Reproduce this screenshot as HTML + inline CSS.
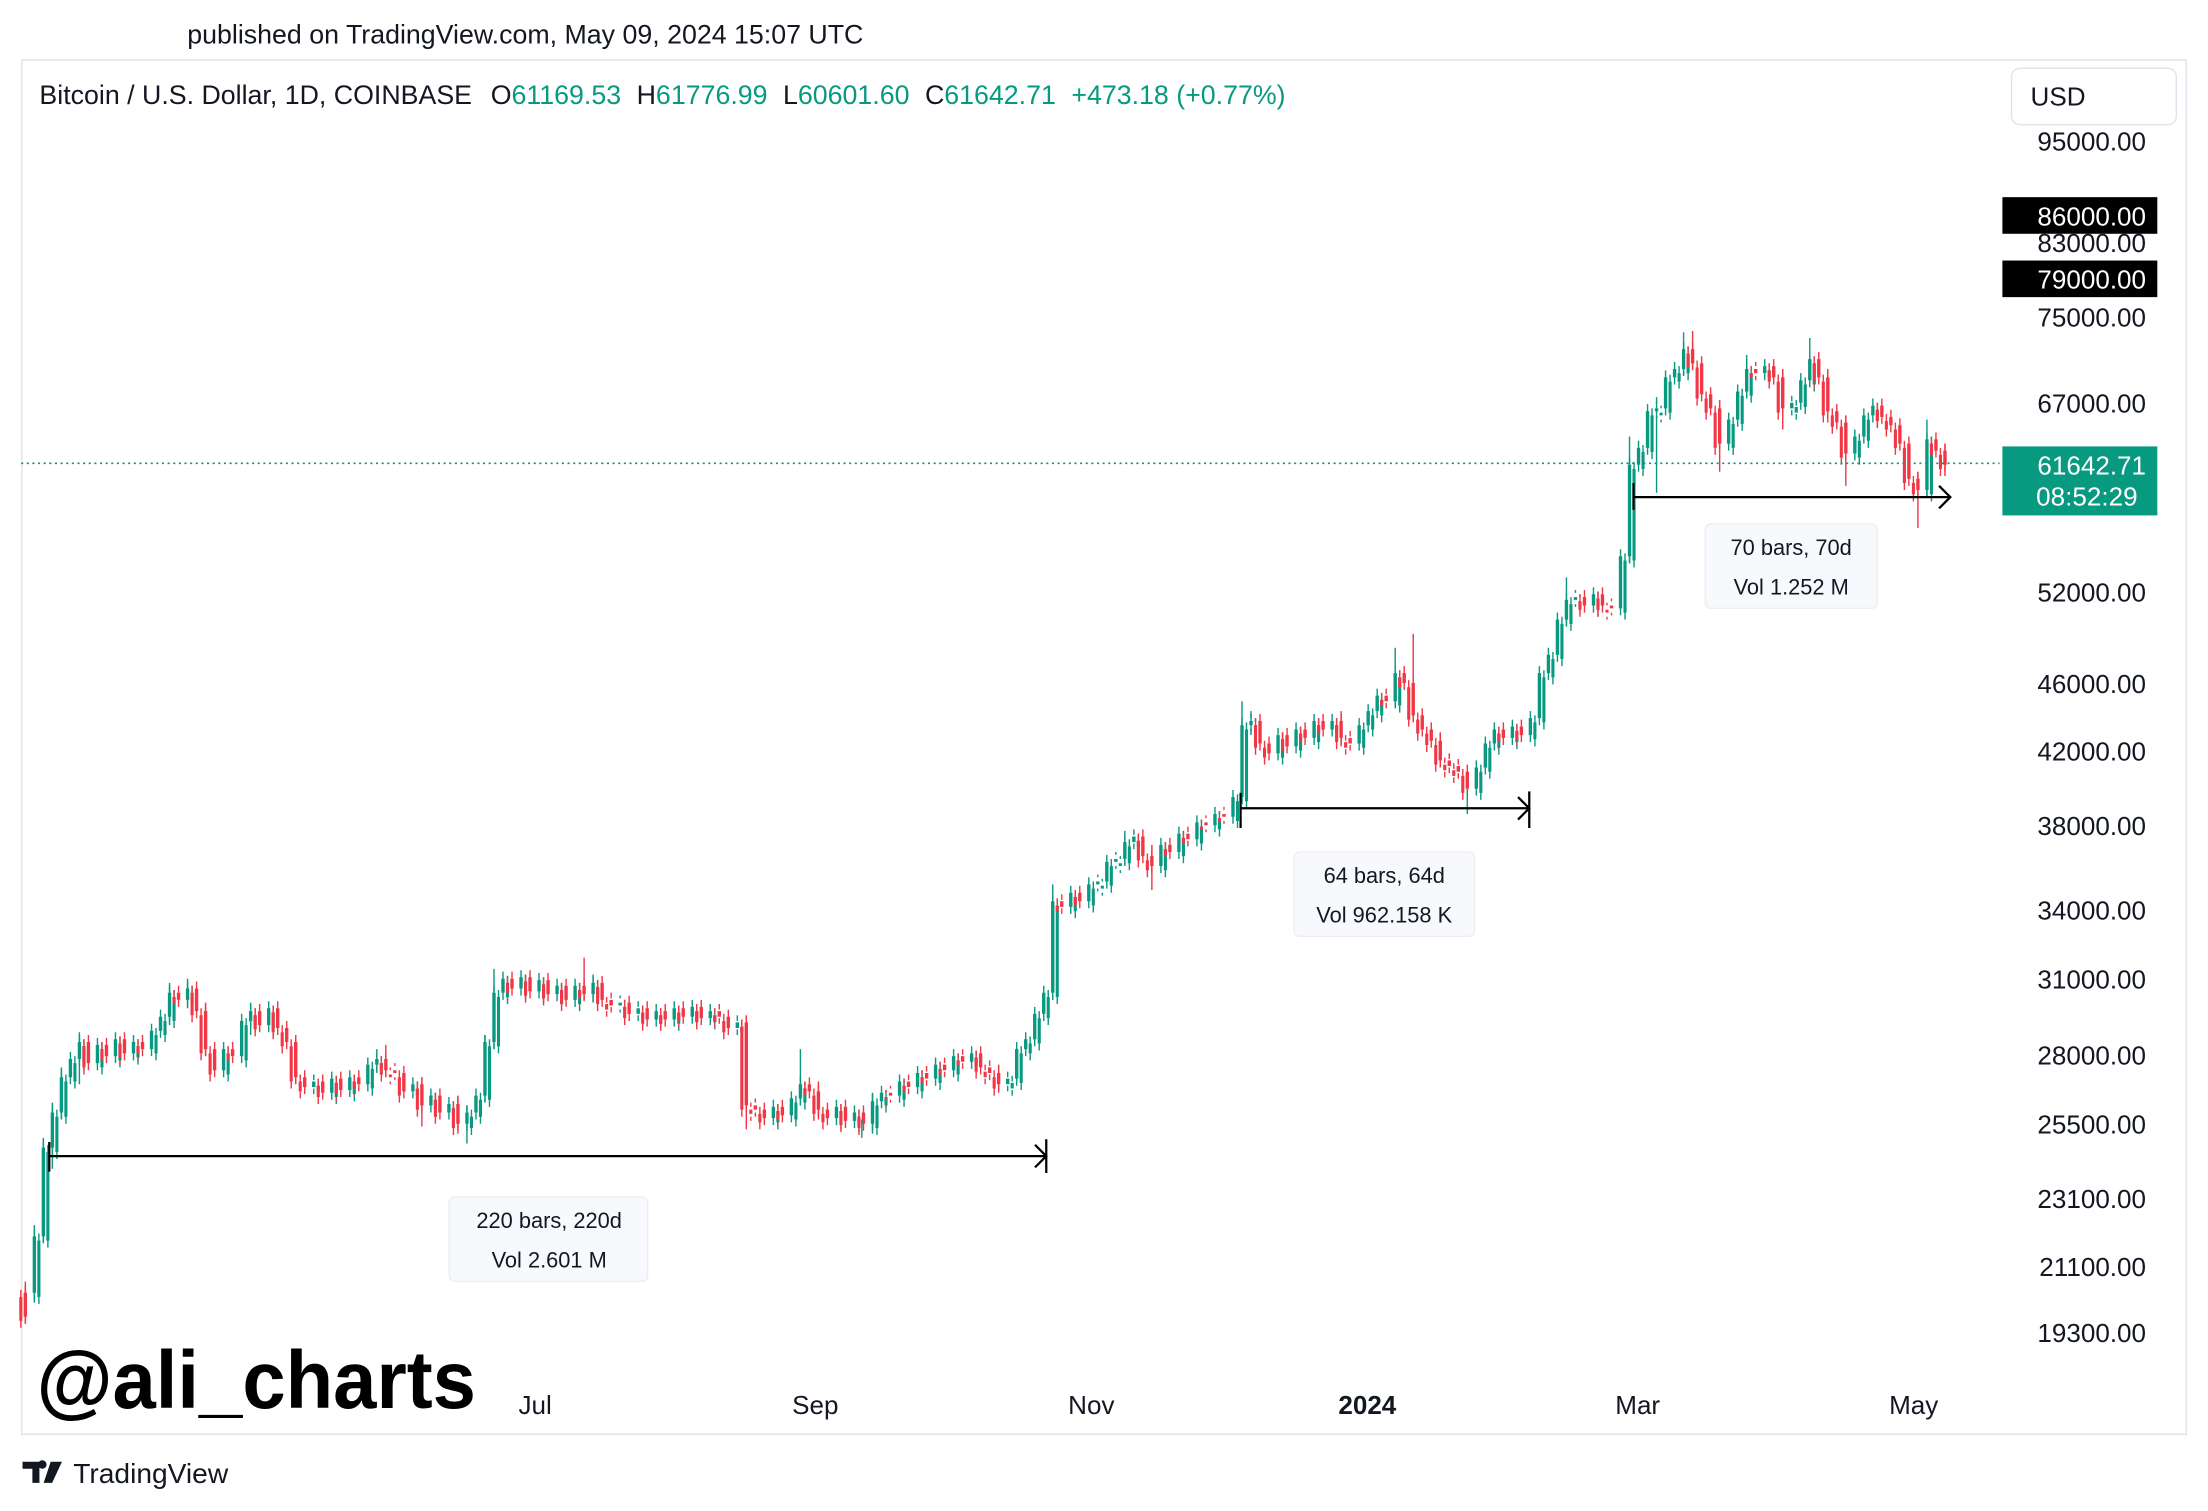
<!DOCTYPE html>
<html><head><meta charset="utf-8"><style>
html,body{margin:0;padding:0;background:#fff;}
svg{display:block;font-family:"Liberation Sans",sans-serif;}
</style></head><body>
<svg width="2208" height="1511" viewBox="0 0 1568 1073" xmlns="http://www.w3.org/2000/svg" xmlns:xlink="http://www.w3.org/1999/xlink">
<defs>
<path id="gb" d="M24.4 878V918M30.8 815V878M37.2 790V815M43.6 765V790M50 752V765M56.4 740V752M69.2 742V755M82 738V750M94.8 740V748M107.6 732V745M114 722V732M120.4 705V722M133.2 702V710M158.8 745V760M171.6 725V750M178 718V725M190.8 716V728M222.8 768V772M235.6 766V776M248.4 765V774M261.2 756V770M267.6 752V756M293.2 770V775M306 778V785M318.8 784V790M331.6 790V798M338 778V790M344.4 740V778M350.8 705V740M357.2 695V705M370 694V702M382.8 696V704M395.6 700V706M408.4 700V710M421.2 698V706M440.4 712V714M453.2 716V720M466 718V724M478.8 716V724M491.6 715V722M504.4 718V723M523.6 726V730M549.2 786V794M562 780V792M568.4 770V780M594 786V794M606.8 790V796M619.6 782V798M626 776V782M638.8 768V778M651.6 762V772M664.4 756V766M677.2 750V760M690 748V754M715.6 766V770M722 745V766M728.4 738V745M734.8 720V738M741.2 705V720M747.6 640V705M760.4 634V644M773.2 628V640M779.6 626V628M786 612V626M792.4 610V612M798.8 598V610M805.2 594V598M824.4 600V615M837.2 592V605M850 584V596M862.8 578V586M875.6 566V580M882 515V566M888.4 512V515M907.6 522V535M920.4 518V530M933.2 512V524M946 512V518M965.2 515V528M971.6 505V515M978 494V505M990.8 478V498M1048.4 545V560M1054.8 528V545M1061.2 518V528M1074 516V524M1086.8 510V522M1093.2 478V510M1099.6 465V478M1106 440V465M1112.4 426V440M1118.8 424V426M1131.6 422V430M1150.8 395V432M1157.2 330V395M1163.6 318V330M1170 292V318M1176.4 290V292M1182.8 268V290M1189.2 262V268M1195.6 248V262M1227.6 298V315M1234 278V298M1240.4 262V278M1253.2 260V265M1272.4 286V290M1278.8 270V286M1285.2 255V270M1317.2 310V322M1323.6 295V310M1330 288V295M1368.4 312V348"/>
<path id="rb" d="M18 918V935M62.8 740V755M75.6 742V750M88.4 738V748M101.2 740V745M126.8 705V710M139.6 702V718M146 718V745M152.4 745V760M165.2 745V750M184.4 718V728M197.2 716V730M203.6 730V740M210 740V765M216.4 765V772M229.2 768V776M242 766V774M254.8 765V770M274 752V760M280.4 760V762M286.8 762V775M299.6 770V785M312.4 778V790M325.2 784V798M363.6 695V702M376.4 694V704M389.2 696V706M402 700V710M414.8 700V706M427.6 698V710M434 710V714M446.8 712V720M459.6 716V724M472.4 718V724M485.2 716V722M498 715V723M510.8 718V722M517.2 722V730M530 726V785M536.4 785V788M542.8 788V794M555.6 786V792M574.8 770V775M581.2 775V788M587.6 788V794M600.4 786V796M613.2 790V798M632.4 776V778M645.2 768V772M658 762V766M670.8 756V760M683.6 750V754M696.4 748V758M702.8 758V762M709.2 762V770M754 640V644M766.8 634V640M811.6 594V608M818 608V615M830.8 600V605M843.6 592V596M856.4 584V586M869.2 578V580M894.8 512V528M901.2 528V535M914 522V530M926.8 518V524M939.6 512V518M952.4 512V524M958.8 524V528M984.4 494V498M997.2 478V485M1003.6 485V508M1010 508V518M1016.4 518V526M1022.8 526V540M1029.2 540V544M1035.6 544V548M1042 548V560M1067.6 518V524M1080.4 516V522M1125.2 424V430M1138 422V430M1144.4 430V432M1202 248V258M1208.4 258V280M1214.8 280V290M1221.2 290V315M1246.8 262V265M1259.6 260V268M1266 268V290M1291.6 255V268M1298 268V292M1304.4 292V300M1310.8 300V322M1336.4 288V296M1342.8 296V302M1349.2 302V315M1355.6 315V340M1362 340V348M1374.8 312V320M1381.2 320V330"/>
</defs>
<rect x="0" y="0" width="1568" height="1073" fill="#fff"/>
<text x="133" y="31" font-size="19" fill="#131722">published on TradingView.com, May 09, 2024 15:07 UTC</text>
<rect x="15.5" y="42.5" width="1537" height="976" fill="none" stroke="#e0e3eb" stroke-width="1"/>
<g fill="none">
<g stroke="#089981" stroke-width="1">
<use xlink:href="#gb" transform="translate(0,-5)"/><use xlink:href="#gb" transform="translate(0,5)"/>
<use xlink:href="#gb" transform="translate(3.2,-2)"/><use xlink:href="#gb" transform="translate(3.2,8)"/>
</g>
<g stroke="#f23645" stroke-width="1">
<use xlink:href="#rb" transform="translate(0,-5)"/><use xlink:href="#rb" transform="translate(0,5)"/>
<use xlink:href="#rb" transform="translate(-3.2,-2)"/><use xlink:href="#rb" transform="translate(-3.2,8)"/>
</g>
<use xlink:href="#gb" stroke="#089981" stroke-width="2.4"/>
<use xlink:href="#rb" stroke="#f23645" stroke-width="2.4"/>
<use xlink:href="#gb" stroke="#089981" stroke-width="2.2" transform="translate(3.2,3)"/>
<use xlink:href="#rb" stroke="#f23645" stroke-width="2.2" transform="translate(-3.2,3)"/>
</g>
<path stroke="#089981" stroke-width="1" fill="none" d="M24.4 870V925M30.8 808V882M37.2 783V830M43.6 758V795M56.4 733V770M120.4 698V728M133.2 695V716M178 712V735M267.6 745V762M331.6 785V812M344.4 735V782M350.8 688V745M421.2 692V712M568.4 745V785M612 795V808M619.6 776V805M747.6 628V710M798.8 590V614M882 498V570M888.4 505V522M990.8 460V502M1042 560V578M1112.4 410V444M1157.2 310V400M1176.4 282V350M1195.6 236V266M1240.4 252V282M1285.2 240V275M1368.4 298V352"/>
<path stroke="#f23645" stroke-width="1" fill="none" d="M18 910V940M146 712V750M210 735V770M274 742V765M299.6 765V800M325.2 778V805M414.8 680V710M530 722V802M581.2 768V795M709.2 756V776M818 600V632M952.4 505V530M1003.6 450V512M1022.8 520V545M1202 235V262M1221.2 284V335M1266 262V305M1298 262V300M1310.8 295V345M1362 335V375M1381.2 315V338"/>
<line x1="15" y1="329" x2="1420" y2="329" stroke="#089981" stroke-width="1.2" stroke-dasharray="1.5 2.5"/>
<text x="28" y="74" font-size="19" fill="#131722">Bitcoin / U.S. Dollar, 1D, COINBASE <tspan dx="8">O</tspan><tspan fill="#089981">61169.53</tspan><tspan dx="11">H</tspan><tspan fill="#089981">61776.99</tspan><tspan dx="11">L</tspan><tspan fill="#089981">60601.60</tspan><tspan dx="11">C</tspan><tspan fill="#089981">61642.71</tspan><tspan dx="11" fill="#089981">+473.18 (+0.77%)</tspan></text>
<rect x="1428.5" y="48.5" width="117" height="40" rx="6" fill="#fff" stroke="#e0e3eb"/>
<text x="1442" y="75" font-size="18.5" fill="#131722">USD</text>
<g font-size="18.5" fill="#131722" text-anchor="end">
<text x="1524" y="107">95000.00</text>
<text x="1524" y="179">83000.00</text>
<text x="1524" y="232">75000.00</text>
<text x="1524" y="293">67000.00</text>
<text x="1524" y="427">52000.00</text>
<text x="1524" y="492">46000.00</text>
<text x="1524" y="540">42000.00</text>
<text x="1524" y="593">38000.00</text>
<text x="1524" y="653">34000.00</text>
<text x="1524" y="702">31000.00</text>
<text x="1524" y="756">28000.00</text>
<text x="1524" y="805">25500.00</text>
<text x="1524" y="858">23100.00</text>
<text x="1524" y="906">21100.00</text>
<text x="1524" y="953">19300.00</text>
</g>
<rect x="1422" y="140" width="110" height="26" fill="#000"/>
<text x="1524" y="160" font-size="18.5" fill="#fff" text-anchor="end">86000.00</text>
<rect x="1422" y="185" width="110" height="26" fill="#000"/>
<text x="1524" y="205" font-size="18.5" fill="#fff" text-anchor="end">79000.00</text>
<rect x="1422" y="317" width="110" height="49" fill="#089981"/>
<text x="1524" y="337" font-size="18.5" fill="#fff" text-anchor="end">61642.71</text>
<text x="1518" y="359" font-size="18.5" fill="#fff" text-anchor="end">08:52:29</text>
<g stroke="#000" stroke-width="1.6" fill="none">
<line x1="35" y1="821" x2="743" y2="821"/><line x1="35" y1="811" x2="35" y2="832"/><line x1="743" y1="809" x2="743" y2="833"/><polyline points="735,813 743,821 735,829"/>
<line x1="881" y1="574" x2="1086" y2="574"/><line x1="881" y1="563" x2="881" y2="588"/><line x1="1086" y1="562" x2="1086" y2="588"/><polyline points="1078,566 1086,574 1078,582"/>
<line x1="1160" y1="353" x2="1385" y2="353"/><line x1="1160" y1="343" x2="1160" y2="362"/><polyline points="1377,345 1385,353 1377,361"/>
</g>
<g font-size="15.5" fill="#131722" text-anchor="middle">
<rect x="319" y="850" width="141" height="60" rx="4" fill="#f8f9fd" stroke="#eceef2"/>
<text x="390" y="872">220 bars, 220d</text><text x="390" y="900">Vol 2.601 M</text>
<rect x="919" y="605" width="128" height="60" rx="4" fill="#f8f9fd" stroke="#eceef2"/>
<text x="983" y="627">64 bars, 64d</text><text x="983" y="655">Vol 962.158 K</text>
<rect x="1211" y="372" width="122" height="60" rx="4" fill="#f8f9fd" stroke="#eceef2"/>
<text x="1272" y="394">70 bars, 70d</text><text x="1272" y="422">Vol 1.252 M</text>
</g>
<g font-size="18.5" fill="#131722" text-anchor="middle">
<text x="380" y="1004">Jul</text><text x="579" y="1004">Sep</text><text x="775" y="1004">Nov</text>
<text x="971" y="1004" font-weight="bold">2024</text><text x="1163" y="1004">Mar</text><text x="1359" y="1004">May</text>
</g>
<text x="26" y="1000" font-size="58" font-weight="bold" fill="#000" textLength="312" lengthAdjust="spacingAndGlyphs">@ali_charts</text>
<path d="M16,1038 h12 v15 h-5 v-10 h-7z M30,1043 a3,3 0 1 1 0.1,0z M36,1038 h8 l-7,15 h-6z" fill="#131722"/>
<text x="52" y="1053" font-size="20" fill="#131722">TradingView</text>
</svg>
</body></html>
